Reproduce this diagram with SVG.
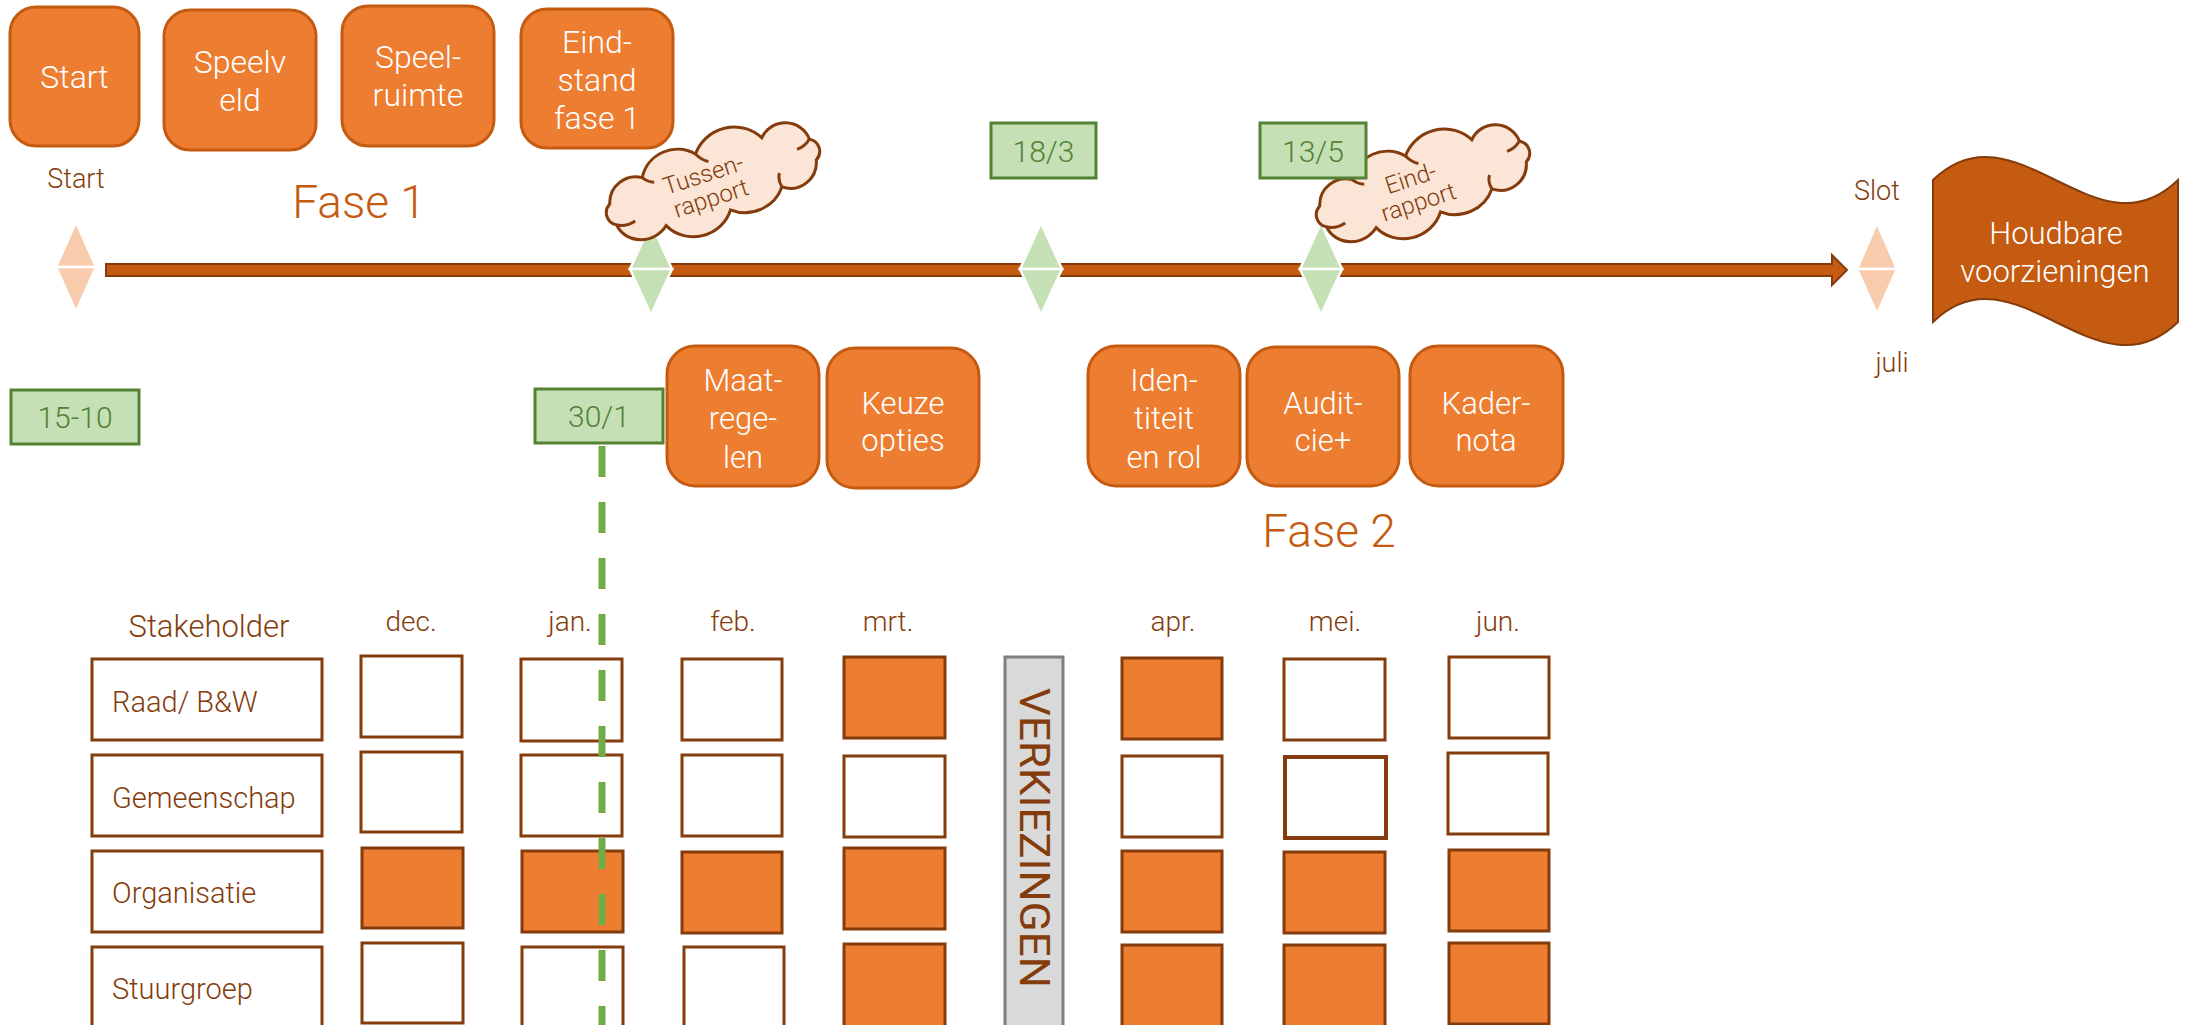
<svg xmlns="http://www.w3.org/2000/svg" width="2187" height="1025" viewBox="0 0 2187 1025">
<defs>
<style>
text{font-family:Roboto,"Liberation Sans",Arial,sans-serif;font-weight:300}
.ob{fill:#ED7D31;stroke:#C55A11;stroke-width:3}
.wt{fill:#fff;font-size:32px;text-anchor:middle}
.wm{fill:#fff;font-size:31px;text-anchor:middle}
.gb{fill:#C5E0B4;stroke:#548235;stroke-width:3}
.gt{fill:#538135;font-size:30px;text-anchor:middle}
.lbl{fill:#843C0C;font-size:28px;text-anchor:middle}
.fase{fill:#C55A11;font-size:46px;text-anchor:middle}
.cell{fill:#fff;stroke:#843C0C;stroke-width:3}
.cellf{fill:#ED7D31;stroke:#843C0C;stroke-width:3}
.sk{fill:#843C0C;font-size:29px}
.dp{fill:#F8CBAD;stroke:#fff;stroke-width:2.5}
.dg{fill:#C5E0B4;stroke:#fff;stroke-width:2.5}
.cloud{fill:#FBE5D6;stroke:#843C0C;stroke-width:3}
.crease{fill:none;stroke:#843C0C;stroke-width:3}
.ct{fill:#843C0C;font-size:24px;text-anchor:middle}
</style>
<path id="cloudShape" d="M105,11 A26 26 0 0 1 64,26 A38 36 0 0 1 8,32 A38 36 0 0 1 -58,27 A28 26 0 0 1 -105,11 A14 13 0 0 1 -105,-11 A26 26 0 0 1 -66,-26 A36 36 0 0 1 -8,-32 A40 38 0 0 1 60,-27 A26 26 0 0 1 105,-11 A14 13 0 0 1 105,11 Z"/>
<path id="cloudCrease" d="M-105,11 Q-96,16 -86,13 M64,26 Q62,18 66,12 M105,-11 Q98,-5 90,-5 M-8,-32 Q-4,-24 2,-21 M-66,-26 Q-62,-20 -56,-18"/>
</defs>
<rect width="2187" height="1025" fill="#fff"/>

<g id="connectors">
<path id="timeline" d="M106,264 H1832 V255 L1847,270 L1832,285 V276 H106 Z" fill="#C55A11" stroke="#843C0C" stroke-width="2"/>
</g>

<g id="diamond-start"><polygon class="dp" points="56,267 76,222 96,267"/><polygon class="dp" points="56,267 76,312 96,267"/></g>
<g id="diamond-30-1"><polygon class="dg" points="630,269 651,223 672,269"/><polygon class="dg" points="630,269 651,315 672,269"/></g>
<g id="diamond-18-3"><polygon class="dg" points="1020,269 1041,223 1062,269"/><polygon class="dg" points="1020,269 1041,315 1062,269"/></g>
<g id="diamond-13-5"><polygon class="dg" points="1300,269 1321,223 1342,269"/><polygon class="dg" points="1300,269 1321,315 1342,269"/></g>
<g id="diamond-slot"><polygon class="dp" points="1857,269 1877,223 1897,269"/><polygon class="dp" points="1857,269 1877,314 1897,269"/></g>

<g id="cloud-tussenrapport" transform="translate(713,182) rotate(-18)">
<use href="#cloudShape" class="cloud"/>
<use href="#cloudCrease" class="crease"/>
<text class="ct" x="-7" y="-2">Tussen-</text>
<text class="ct" x="-7" y="23">rapport</text>
</g>
<g id="cloud-eindrapport" transform="translate(1423,184) rotate(-18)">
<use href="#cloudShape" class="cloud"/>
<use href="#cloudCrease" class="crease"/>
<text class="ct" x="-10" y="-1">Eind-</text>
<text class="ct" x="-10" y="24">rapport</text>
</g>

<g id="box-start"><rect class="ob" x="10" y="7" width="129" height="139" rx="26"/><text class="wt" x="74.5" y="88">Start</text></g>
<g id="box-speelveld"><rect class="ob" x="164" y="10" width="152" height="140" rx="26"/><text class="wt" x="240" y="73">Speelv</text><text class="wt" x="240" y="111">eld</text></g>
<g id="box-speelruimte"><rect class="ob" x="342" y="6" width="152" height="140" rx="26"/><text class="wt" x="418" y="68">Speel-</text><text class="wt" x="418" y="106">ruimte</text></g>
<g id="box-eindstand"><rect class="ob" x="521" y="9" width="152" height="139" rx="26"/><text class="wt" x="597" y="53">Eind-</text><text class="wt" x="597" y="91">stand</text><text class="wt" x="597" y="129">fase 1</text></g>

<g id="label-start"><text class="lbl" x="76" y="188" style="font-size:27px">Start</text></g>
<g id="label-fase1"><text class="fase" x="359" y="218">Fase 1</text></g>
<g id="label-slot"><text class="lbl" x="1877" y="200" style="font-size:27px">Slot</text></g>
<g id="label-juli"><text class="lbl" x="1892" y="372" style="font-size:27px">juli</text></g>

<g id="date-18-3"><rect class="gb" x="991" y="123" width="105" height="55"/><text class="gt" x="1043.5" y="162">18/3</text></g>
<g id="date-13-5"><rect class="gb" x="1260" y="123" width="106" height="55"/><text class="gt" x="1313" y="162">13/5</text></g>
<g id="date-15-10"><rect class="gb" x="11" y="390" width="128" height="54"/><text class="gt" x="75" y="428">15-10</text></g>
<g id="date-30-1"><rect class="gb" x="535" y="389" width="128" height="54"/><text class="gt" x="599" y="427">30/1</text></g>

<g id="houdbare">
<path d="M1933,180 C2015,100 2096,260 2178,180 L2178,322 C2096,402 2015,242 1933,322 Z" fill="#C55A11" stroke="#843C0C" stroke-width="2"/>
<text class="wm" x="2056" y="244">Houdbare</text>
<text class="wm" x="2055" y="282">voorzieningen</text>
</g>

<g id="box-maatregelen"><rect class="ob" x="667" y="346" width="152" height="140" rx="28"/><text class="wm" x="743" y="391">Maat-</text><text class="wm" x="743" y="429">rege-</text><text class="wm" x="743" y="468">len</text></g>
<g id="box-keuzeopties"><rect class="ob" x="827" y="348" width="152" height="140" rx="28"/><text class="wm" x="903" y="414">Keuze</text><text class="wm" x="903" y="451">opties</text></g>
<g id="box-identiteit"><rect class="ob" x="1088" y="346" width="152" height="140" rx="28"/><text class="wm" x="1164" y="391">Iden-</text><text class="wm" x="1164" y="429">titeit</text><text class="wm" x="1164" y="468">en rol</text></g>
<g id="box-auditcie"><rect class="ob" x="1247" y="347" width="152" height="139" rx="28"/><text class="wm" x="1323" y="414">Audit-</text><text class="wm" x="1323" y="451">cie+</text></g>
<g id="box-kadernota"><rect class="ob" x="1410" y="346" width="153" height="140" rx="28"/><text class="wm" x="1486" y="414">Kader-</text><text class="wm" x="1486" y="451">nota</text></g>

<g id="label-fase2"><text class="fase" x="1329" y="547">Fase 2</text></g>

<g id="table-header">
<text class="sk" x="209" y="637" text-anchor="middle" style="font-size:31px">Stakeholder</text>
<text class="lbl" x="411" y="631">dec.</text>
<text class="lbl" x="570" y="631">jan.</text>
<text class="lbl" x="733" y="631">feb.</text>
<text class="lbl" x="888" y="631">mrt.</text>
<text class="lbl" x="1173" y="631">apr.</text>
<text class="lbl" x="1335" y="631">mei.</text>
<text class="lbl" x="1498" y="631">jun.</text>
</g>

<g id="stakeholders">
<g id="sh-raad"><rect class="cell" x="92" y="659" width="230" height="81"/><text class="sk" x="112" y="712">Raad/ B&amp;W</text></g>
<g id="sh-gemeenschap"><rect class="cell" x="92" y="755" width="230" height="81"/><text class="sk" x="112" y="808">Gemeenschap</text></g>
<g id="sh-organisatie"><rect class="cell" x="92" y="851" width="230" height="81"/><text class="sk" x="112" y="903">Organisatie</text></g>
<g id="sh-stuurgroep"><rect class="cell" x="92" y="947" width="230" height="85"/><text class="sk" x="112" y="999">Stuurgroep</text></g>
</g>

<g id="col-dec">
<rect class="cell" x="361" y="656" width="101" height="81"/>
<rect class="cell" x="361" y="752" width="101" height="80"/>
<rect class="cellf" x="362" y="848" width="101" height="80"/>
<rect class="cell" x="362" y="943" width="101" height="80"/>
</g>
<g id="col-jan">
<rect class="cell" x="521" y="659" width="101" height="82"/>
<rect class="cell" x="521" y="755" width="101" height="81"/>
<rect class="cellf" x="522" y="851" width="101" height="81"/>
<rect class="cell" x="522" y="947" width="101" height="85"/>
</g>
<g id="col-feb">
<rect class="cell" x="682" y="659" width="100" height="81"/>
<rect class="cell" x="682" y="755" width="100" height="81"/>
<rect class="cellf" x="682" y="852" width="100" height="81"/>
<rect class="cell" x="684" y="947" width="100" height="85"/>
</g>
<g id="col-mrt">
<rect class="cellf" x="844" y="657" width="101" height="81"/>
<rect class="cell" x="844" y="756" width="101" height="81"/>
<rect class="cellf" x="844" y="848" width="101" height="81"/>
<rect class="cellf" x="844" y="944" width="101" height="85"/>
</g>
<g id="verkiezingen">
<rect x="1005" y="657" width="58" height="375" fill="#D9D9D9" stroke="#7F7F7F" stroke-width="3"/>
<text x="1020" y="838" transform="rotate(90 1020 838)" text-anchor="middle" fill="#843C0C" style="font-size:43px;font-weight:400" textLength="300" lengthAdjust="spacingAndGlyphs">VERKIEZINGEN</text>
</g>
<g id="col-apr">
<rect class="cellf" x="1122" y="658" width="100" height="81"/>
<rect class="cell" x="1122" y="756" width="100" height="81"/>
<rect class="cellf" x="1122" y="851" width="100" height="81"/>
<rect class="cellf" x="1122" y="945" width="100" height="85"/>
</g>
<g id="col-mei">
<rect class="cell" x="1284" y="659" width="101" height="81"/>
<rect class="cell" x="1285" y="757" width="101" height="81" style="stroke-width:4"/>
<rect class="cellf" x="1284" y="852" width="101" height="81"/>
<rect class="cellf" x="1284" y="945" width="101" height="85"/>
</g>
<g id="col-jun">
<rect class="cell" x="1449" y="657" width="100" height="81"/>
<rect class="cell" x="1448" y="753" width="100" height="81"/>
<rect class="cellf" x="1449" y="850" width="100" height="81"/>
<rect class="cellf" x="1449" y="943" width="100" height="81"/>
</g>

<g id="marker-30-1">
<line x1="602" y1="446" x2="602" y2="1025" stroke="#70AD47" stroke-width="7" stroke-dasharray="31 25"/>
</g>
</svg>
